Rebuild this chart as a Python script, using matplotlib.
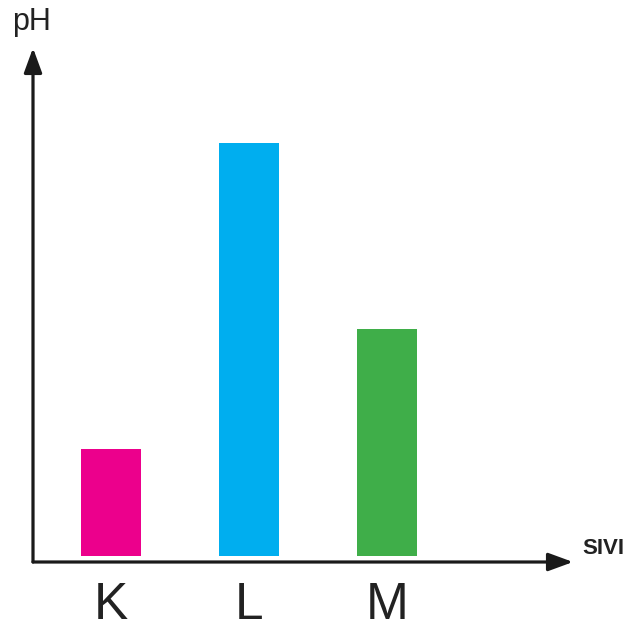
import matplotlib
matplotlib.use("Agg")
import matplotlib.pyplot as plt

plt.rcParams['font.family'] = ['Liberation Sans', 'DejaVu Sans']

kategoriler = ["K", "L", "M"]
ph_degerleri = [3.1, 12.0, 6.6]
renkler = ["#EC008C", "#00AEEF", "#3FAE49"]

W, H = 637, 632
fig = plt.figure(figsize=(W / 100, H / 100), dpi=100)
# axes: origin at (33, 562) px, x arrow tip at 573 px, y arrow tip at 48 px
ax = fig.add_axes([33 / W, (H - 562) / H, (573 - 33) / W, (562 - 48) / H])

x = range(len(kategoriler))
ax.bar(x, ph_degerleri, width=0.435, color=renkler, bottom=0)
ax.set_xlim(-0.565, 3.348)
ax.set_ylim(-0.17, 14.77)

for s in ax.spines.values():
    s.set_visible(False)
ax.set_yticks([])
ax.set_xticks(list(x))
ax.set_xticklabels(kategoriler, fontsize=37, color="#222222")
ax.tick_params(axis="x", length=0, pad=14)

ok = dict(arrowstyle="-|>,head_length=1.5,head_width=0.55", color="#1a1a1a",
          lw=2.3, shrinkA=0, shrinkB=0)
ax.annotate("", xy=(1, 0), xytext=(0, 0), xycoords="axes fraction",
            textcoords="axes fraction", arrowprops=ok, annotation_clip=False)
ax.annotate("", xy=(0, 1), xytext=(0, 0), xycoords="axes fraction",
            textcoords="axes fraction", arrowprops=ok, annotation_clip=False)

fig.text(12 / W, 1 - 22 / H, "pH", fontsize=22, va="center", ha="left", color="#222222")
fig.text(582 / W, 1 - 548 / H, "SIVI", fontsize=16, fontweight="bold",
         va="center", ha="left", color="#222222")

fig.savefig("out.png", dpi=100)
